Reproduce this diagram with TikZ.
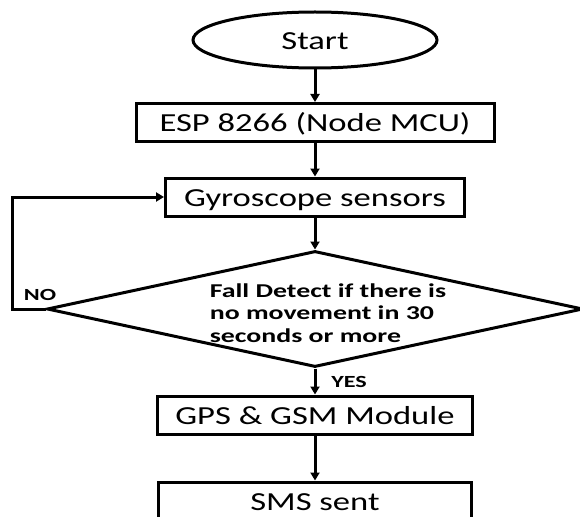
\documentclass[tikz,border=0pt]{standalone}
\usepackage{fontspec}
\setmainfont{Carlito}
\newfontfamily\fc[FakeStretch=1.33]{Carlito}
\newfontfamily\fcb[FakeStretch=1.42]{Carlito}
\usetikzlibrary{shapes.geometric,arrows.meta}
\begin{document}
\begin{tikzpicture}[x=1pt,y=-1pt,
  line width=3pt,
  txt/.style={font=\fc\fontsize{26}{30}\selectfont, text height=22pt, text depth=3.3pt},
  box/.style={draw, rectangle, minimum height=38pt, inner sep=0pt, txt},
  arr/.style={-{Triangle[length=8pt,width=9pt]}, line width=3pt},
  lab/.style={font=\fcb\bfseries\fontsize{17}{20}\selectfont, inner sep=0pt}]
\clip (0,0) rectangle (580,516);
\node[draw, ellipse, minimum width=244pt, minimum height=56pt, inner sep=0pt, txt] (start) at (315,40) {Start};
\node[box, minimum width=358pt] (esp) at (315,122.5) {ESP 8266 (Node MCU)};
\node[box, minimum width=299pt] (gyro) at (315,197) {Gyroscope sensors};
\node[draw, diamond, minimum width=536pt, minimum height=116pt, inner sep=0pt] (dec) at (315,309) {};
\node[align=left, inner sep=0pt, font=\fcb\bfseries\fontsize{19.6}{22.5}\selectfont] (dtext) at (328,313)
  {Fall Detect if there is\\no movement in 30\\seconds or more};
\node[box, minimum width=315pt] (gps) at (315,415) {GPS \& GSM Module};
\node[box, minimum width=313pt] (sms) at (315,501) {SMS sent};
\node[lab] (no) at (40,295) {NO};
\node[lab] (yes) at (349,382) {YES};
\draw[arr] (start.south) -- (esp.north);
\draw[arr] (esp.south) -- (gyro.north);
\draw[arr] (gyro.south) -- (dec.north);
\draw[arr] (dec.south) -- (gps.north);
\draw[arr] (gps.south) -- (sms.north);
\draw[arr] (dec.west) -- ++(-33,0) |- (gyro.west);
\end{tikzpicture}
\end{document}
